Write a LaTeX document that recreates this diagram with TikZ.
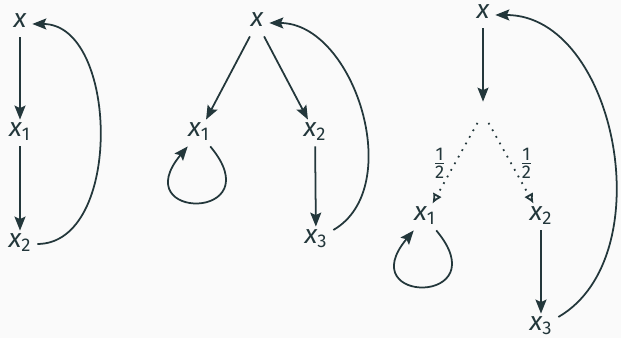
\documentclass[tikz,border=0pt]{standalone}
\usepackage{amsmath}
\usepackage{fontspec}
\setmainfont{Fira Sans}
\usetikzlibrary{arrows.meta}
\definecolor{mTeal}{RGB}{35,55,59}
\definecolor{mBack}{RGB}{250,250,250}
\begin{document}
\begin{tikzpicture}[color=mTeal, font=\fontsize{15}{18}\selectfont,
    var/.style={inner sep=0.12cm, outer sep=0pt, text height=1.2ex, text depth=0.4ex},
    link/.style={-{Stealth[length=0.28cm, width=0.22cm, inset=0.05cm]}, line width=1pt},
    coin/.style={-{Latex[open, length=0.2cm, width=0.2cm]}, line width=1pt, dash pattern=on 1pt off 3.3pt},
    chance/.style={circle, inner sep=0pt, minimum size=0.44cm}]

    % Background
    \fill[mBack] (0,0) rectangle (12.42,6.76);
    \useasboundingbox (0,0) rectangle (12.42,6.76);

    % First graph
    \node[var] (a0) at (0.40, 6.28) {$\textit{x}$};
    \node[var] (a1) at (0.40, 4.10) {$\textit{x}_{\text{1}}$};
    \node[var] (a2) at (0.40, 1.88) {$\textit{x}_{\text{2}}$};

    \draw[link] (a0) -- (a1);
    \draw[link] (a1) -- (a2);
    \draw[link] (a2) to[out=0, in=0, looseness=1] (a0);

    % Second graph
    \node[var] (b0) at (5.14, 6.30) {$\textit{x}$};
    \node[var] (b1) at (3.98, 4.10) {$\textit{x}_{\text{1}}$};
    \node[var] (b2) at (6.30, 4.10) {$\textit{x}_{\text{2}}$};
    \node[var] (b3) at (6.32, 1.96) {$\textit{x}_{\text{3}}$};

    \draw[link] (b0) -- (b1);
    \draw[link] (b0) -- (b2);
    \draw[link] (b1) .. controls +(-50:2.3) and +(-130:2.3) .. (b1);
    \draw[link] (b2) -- (b3);
    \draw[link] (b3) to[out=30, in=0, looseness=1] (b0);

    % Third graph, with a coin toss
    \node[var] (c0) at (9.66, 6.46) {$\textit{x}$};
    \node[chance] (cc) at (9.66, 4.50) {};
    \node[var] (c1) at (8.50, 2.42) {$\textit{x}_{\text{1}}$};
    \node[var] (c2) at (10.82, 2.42) {$\textit{x}_{\text{2}}$};
    \node[var] (c3) at (10.82, 0.22) {$\textit{x}_{\text{3}}$};

    \draw[link] (c0) -- (cc);
    \draw[coin] (cc) -- (c1) node[midway, left=0.04cm] {$\frac{\text{1}}{\text{2}}$};
    \draw[coin] (cc) -- (c2) node[midway, right=0.04cm] {$\frac{\text{1}}{\text{2}}$};
    \draw[link] (c1) .. controls +(-50:2.3) and +(-130:2.3) .. (c1);
    \draw[link] (c2) -- (c3);
    \draw[link] (c3) to[out=30, in=0, looseness=1] (c0);
\end{tikzpicture}
\end{document}
